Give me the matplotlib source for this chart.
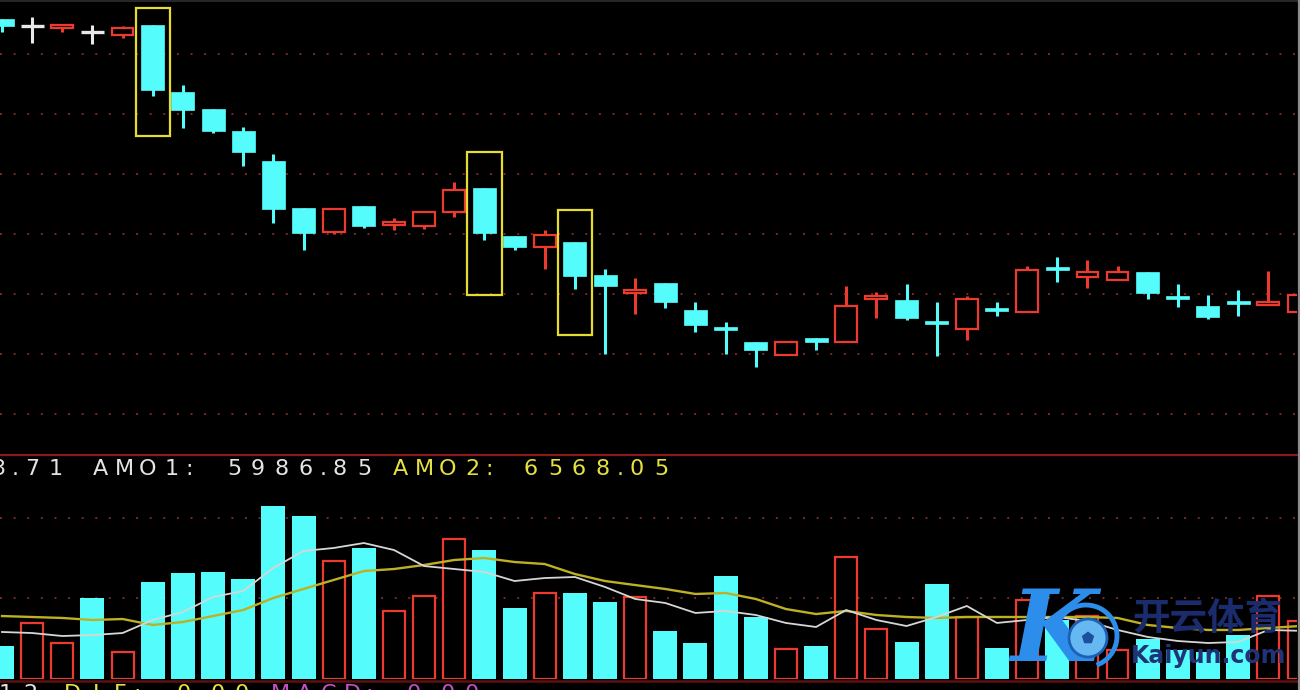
import matplotlib
matplotlib.use("Agg")
import matplotlib.pyplot as plt
from matplotlib.patches import Rectangle, Circle, Arc, RegularPolygon
from matplotlib.lines import Line2D
from matplotlib.transforms import IdentityTransform

# ---------------- data ----------------
opens  = [13.29, 13.23, 13.22, 13.18, 13.16, 13.24, 12.68, 12.54, 12.36, 12.11,
          11.72, 11.52, 11.73, 11.58, 11.57, 11.68, 11.88, 11.48, 11.39, 11.43,
          11.16, 11.02, 11.09, 10.87, 10.72, 10.60, 10.49, 10.63, 10.60, 10.96,
          10.95, 10.77, 10.71, 10.88, 10.85, 11.22, 11.14, 11.12, 11.18, 10.98,
          10.90, 10.93, 10.91, 10.85]
highs  = [13.29, 13.31, 13.24, 13.24, 13.23, 13.24, 12.74, 12.54, 12.39, 12.17,
          11.72, 11.71, 11.73, 11.63, 11.68, 11.93, 11.88, 11.48, 11.53, 11.43,
          11.21, 11.13, 11.09, 10.93, 10.77, 10.60, 10.60, 10.63, 11.07, 11.02,
          11.08, 10.93, 10.98, 10.93, 11.23, 11.31, 11.28, 11.23, 11.18, 11.08,
          10.99, 11.03, 11.19, 10.99]
lows   = [13.18, 13.09, 13.18, 13.08, 13.13, 12.65, 12.38, 12.34, 12.07, 11.59,
          11.37, 11.50, 11.55, 11.53, 11.54, 11.64, 11.45, 11.37, 11.21, 11.04,
          10.50, 10.83, 10.88, 10.68, 10.50, 10.39, 10.49, 10.53, 10.60, 10.80,
          10.78, 10.48, 10.62, 10.82, 10.85, 11.10, 11.05, 11.12, 10.96, 10.89,
          10.79, 10.82, 10.91, 10.85]
closes = [13.23, 13.23, 13.24, 13.18, 13.22, 12.70, 12.53, 12.36, 12.18, 11.71,
          11.51, 11.71, 11.57, 11.60, 11.68, 11.87, 11.51, 11.39, 11.49, 11.15,
          11.07, 11.03, 10.93, 10.74, 10.70, 10.53, 10.60, 10.60, 10.90, 10.98,
          10.80, 10.75, 10.96, 10.86, 11.20, 11.20, 11.18, 11.18, 11.01, 10.96,
          10.81, 10.92, 10.93, 10.99]

volumes = [4100, 6960, 4470, 10060, 3350, 12050, 13170, 13290, 12420, 21490,
           20240, 14660, 16270, 8450, 10310, 17390, 16020, 8820, 10680, 10680,
           9560, 10180, 5960, 4470, 12790, 7700, 3730, 4100, 15150, 6210,
           4600, 11800, 7700, 3850, 9810, 7330, 7820, 3600, 4970, 3600,
           3350, 5460, 10310, 7200]
vol_up = [0, 1, 1, 0, 1, 0, 0, 0, 0, 0,
          0, 1, 0, 1, 1, 1, 0, 0, 1, 0,
          0, 1, 0, 0, 0, 0, 1, 0, 1, 1,
          0, 0, 1, 0, 1, 0, 1, 1, 0, 0,
          0, 0, 1, 1]
amo1 = [5840, 5710, 5340, 5460, 5710, 7330, 8320, 10180, 10930, 13790,
        15900, 16270, 16890, 16020, 14030, 13660, 13290, 12170, 12540, 12670,
        11430, 9940, 9440, 8200, 8450, 7950, 6960, 6460, 8570, 7330,
        6580, 7700, 9070, 6960, 7330, 7700, 7200, 6090, 5220, 4720,
        4470, 4600, 6090, 5987]
amo2 = [7820, 7700, 7580, 7330, 7450, 6710, 7080, 7820, 8570, 10060,
        11180, 12300, 13410, 13660, 14160, 14780, 15030, 14530, 14280, 13040,
        12170, 11670, 11180, 10560, 10680, 9940, 8690, 8070, 8450, 7950,
        7700, 7580, 7700, 7700, 7700, 7700, 7700, 7580, 6710, 6330,
        6090, 6090, 6330, 6568]

highlight_idx = [5, 16, 19]
highlight_top = [13.38, 12.18, 11.70]
highlight_bot = [12.32, 10.99, 10.66]

price_grid = [10.0, 10.5, 11.0, 11.5, 12.0, 12.5, 13.0]
vol_grid = [10000, 20000]

label_groups = [("3.71", "white"), ("AMO1:", "white"), ("5986.85", "white"),
                ("AMO2:", "yellow"), ("6568.05", "yellow")]
bottom_groups = [("12", "white"), ("DIF:", "yellow"), ("0.00", "yellow"),
                 ("MACD:", "magenta"), ("0.00", "magenta")]

# ---------------- style ----------------
W, H, DPI = 1300, 690, 100
CYAN = '#55FCFC'
RED = '#EC3A2E'
WHITE = '#E8E8E8'
YELLOW = '#E6DC2E'
GRID = '#7A2A22'
TXT = {"white": '#E4E4E4', "yellow": '#E6E040', "magenta": '#C450C8'}

fig = plt.figure(figsize=(W / DPI, H / DPI), dpi=DPI, facecolor='black')


def fx(px):
    return px / W


def fy(py):
    return 1 - py / H


RIGHT = 1297
X0, DX = 2.0, 30.15
xlim = ((0 - X0) / DX, (RIGHT - X0) / DX)

ax1 = fig.add_axes([0, fy(454), fx(RIGHT), 454 / H])
ax2 = fig.add_axes([0, fy(679), fx(RIGHT), (679 - 455) / H])
for ax in (ax1, ax2):
    ax.set_facecolor('black')
    ax.set_xlim(*xlim)
    ax.axis('off')

PX_PER_PRICE = 120.0
ax1.set_ylim(10 + (414 - 454) / PX_PER_PRICE, 10 + 414 / PX_PER_PRICE)
PX_PER_VOL = 1 / 124.2
ax2.set_ylim(0, (679 - 455) / PX_PER_VOL)

dots = (0, (1, 6))
for g in price_grid:
    ax1.axhline(g, color=GRID, lw=1.4, ls=dots, zorder=0)
for g in vol_grid:
    ax2.axhline(g, color=GRID, lw=1.4, ls=dots, zorder=0)

# ---------------- candles ----------------
BW = 23 / DX
MINH = 3 / PX_PER_PRICE
WICK = 2.2
for i, (o, h, l, c) in enumerate(zip(opens, highs, lows, closes)):
    top, bot = max(o, c), min(o, c)
    if top - bot < MINH:
        mid = (top + bot) / 2
        top, bot = mid + MINH / 2, mid - MINH / 2
    if c > o:
        if h > top:
            ax1.vlines(i, top, h, color=RED, lw=WICK, zorder=2)
        if l < bot:
            ax1.vlines(i, l, bot, color=RED, lw=WICK, zorder=2)
        ax1.add_patch(Rectangle((i - BW / 2 + 0.02, bot), BW - 0.04, top - bot,
                                facecolor='black', edgecolor=RED, lw=1.6, zorder=3))
    elif c < o:
        ax1.vlines(i, l, h, color=CYAN, lw=WICK, zorder=2)
        ax1.add_patch(Rectangle((i - BW / 2, bot), BW, top - bot,
                                facecolor=CYAN, edgecolor=CYAN, lw=0.5, zorder=3))
    else:
        ax1.vlines(i, l, h, color=WHITE, lw=WICK, zorder=2)
        ax1.hlines(o, i - BW / 2, i + BW / 2, color=WHITE, lw=2.4, zorder=3)

for idx, t, b in zip(highlight_idx, highlight_top, highlight_bot):
    ax1.add_patch(Rectangle((idx - 0.57, b), 1.14, t - b, fill=False,
                            edgecolor=YELLOW, lw=1.6, zorder=4))

# ---------------- volume ----------------
VW = 24 / DX
for i, (v, up) in enumerate(zip(volumes, vol_up)):
    if up:
        ax2.add_patch(Rectangle((i - VW / 2 + 0.035, 0), VW - 0.07, v,
                                facecolor='black', edgecolor=RED, lw=1.6, zorder=2))
    else:
        ax2.bar(i, v, width=VW, color=CYAN, zorder=2)

xs = list(range(len(amo1)))
ax2.plot(xs, amo2, color='#BDB024', lw=1.7, zorder=5)
ax2.plot(xs, amo1, color='#D6D6D6', lw=1.3, zorder=6)

# ---------------- frame lines ----------------
fig.add_artist(Line2D([0, 1], [fy(455), fy(455)], transform=fig.transFigure,
                      color='#8A1A1A', lw=1.6))
fig.add_artist(Line2D([0, 1], [fy(681), fy(681)], transform=fig.transFigure,
                      color='#5E1010', lw=1.8))
fig.add_artist(Line2D([0, 1], [fy(0.6), fy(0.6)], transform=fig.transFigure,
                      color='#2E2E2E', lw=1.2))
fig.add_artist(Line2D([fx(1298.8), fx(1298.8)], [0, 1], transform=fig.transFigure,
                      color='#8C8C8C', lw=1.6))

# ---------------- texts ----------------
WIDE, NARROW, SPACE = 24, 10, 30


def spaced(x, y, s, color, size=16):
    for ch in s:
        adv = NARROW if ch in '.:' else (SPACE if ch == ' ' else WIDE)
        if ch != ' ':
            fig.text(fx(x + adv / 2), fy(y), ch, color=color, fontsize=size,
                     ha='center', va='baseline', family='DejaVu Sans')
        x += adv


label_x = [-14, 88, 222, 388, 519]
for (s, col), x in zip(label_groups, label_x):
    spaced(x, 475, s, TXT[col])

bottom_x = [-6, 60, 172, 268, 402]
for (s, col), x in zip(bottom_groups, bottom_x):
    spaced(x, 700, s, TXT[col])

# ---------------- watermark ----------------
fig.text(fx(1054), fy(633), 'K', fontsize=72, style='italic', weight='bold',
         family='DejaVu Serif', color='#2C8EEA', ha='center', va='center', zorder=10)
fig.add_artist(Arc((1086, H - 636), 62, 62, theta1=-70, theta2=150,
                   transform=IdentityTransform(), color='#2C8EEA', lw=3.5, zorder=10))
fig.add_artist(Circle((1088, H - 638), 19, transform=IdentityTransform(),
                      facecolor='#66B8F2', edgecolor='#1D5FB5', lw=2, zorder=11))
fig.add_artist(RegularPolygon((1088, H - 638), 5, radius=6.5, transform=IdentityTransform(),
                              facecolor='#1C4F9C', edgecolor='none', zorder=12))
fig.text(fx(1207), fy(619), '开云体育', fontsize=27, family=['Noto Sans CJK SC'],
         weight='bold', color='#1B2C6E', ha='center', va='center', zorder=10)
fig.text(fx(1209), fy(656), 'Kaiyun.com', fontsize=17, weight='bold',
         family='DejaVu Sans', color='#1F3376', ha='center', va='center', zorder=10)

fig.savefig('out.png', dpi=DPI, facecolor='black')
